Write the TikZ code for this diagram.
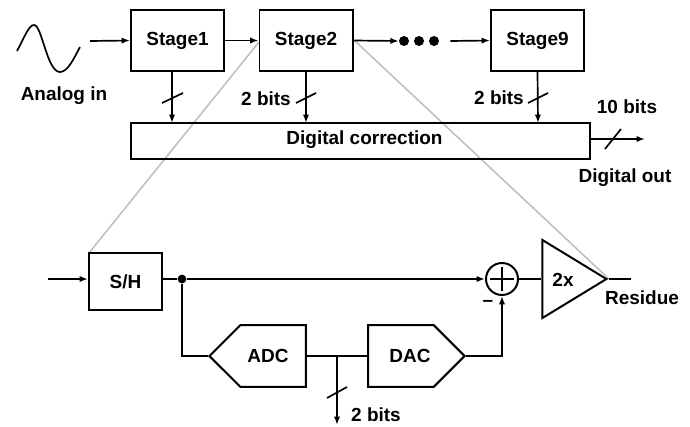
\documentclass[tikz,border=0pt]{standalone}
\usepackage{fontspec}
\setmainfont{Liberation Sans}
\usetikzlibrary{shapes.geometric, shapes.symbols, arrows.meta}
\tikzset{
  wire/.style={line width=1.2pt},
  sig/.style={wire, -{Latex[length=6pt,width=4.5pt]}},
  zoomline/.style={black!25, line width=1.1pt},
  lab/.style={font=\fontsize{13.5}{15}\selectfont\bfseries, inner sep=0pt},
  stagebox/.style={draw, line width=1.4pt, lab, minimum width=2.325cm, minimum height=1.525cm},
  adcbox/.style={draw, line width=1.4pt, lab, shape=signal, signal from=nowhere, signal pointer angle=90, minimum width=2.41cm, minimum height=1.54cm, inner sep=0pt},
}
\begin{document}
\begin{tikzpicture}[x=0.025cm, y=-0.025cm]
\useasboundingbox (0,0) rectangle (690,427);
% zoom lines go under everything
\coordinate (stagetwoin) at (259,42);
\coordinate (stagetwoout) at (355,41);
\draw[zoomline] (stagetwoin) -- (89,253);
\draw[zoomline] (stagetwoout) -- (609,279);

% pipeline
\draw[wire] (17,51) .. controls (25,36) and (29,25) .. (34,25) .. controls (42,25) and (47,72) .. (60,72) .. controls (68,72) and (74,58) .. (80,47);
\node[lab] (analogin) at (64,96) {Analog in};
\coordinate (instart) at (90,41);
\node[stagebox] (stageone) at (177.5,40.5) {Stage1};
\node[stagebox] (stagetwo) at (306,40.5) {Stage2};
\node[stagebox] (stagenine) at (537.5,40.5) {Stage9};
\node[draw, line width=1.4pt, lab, minimum width=11.475cm, minimum height=0.9cm] (correction) at (360.5,141) {};
\node[lab] (correctiontext) at (364.5,140) {Digital correction};
\foreach \x/\name in {404/dotone, 419/dottwo, 434/dotthree}
  \node[circle, fill=black, inner sep=0pt, minimum size=0.25cm] (\name) at (\x,41) {};
\draw[sig] (instart) -- (stageone.west);
\draw[sig] (stageone) -- (stagetwo.west);
\draw[sig] (stagetwo.east) -- (dotone.west);
\draw[sig] (dotthree.east) ++(11,0) coordinate (dotsout) -- (stagenine.west);
\draw[sig] (stageone.south -| 172,0) -- (172,123);
\draw[sig] (stagetwo.south) -- (306,123);
\draw[sig] (stagenine.south) -- (538,123);
\draw[wire] (162,103) -- (183,93);
\draw[wire] (296,103) -- (316,93);
\draw[wire] (528,103) -- (548,93);
\node[lab] (bitstwo) at (266,99) {2 bits};
\node[lab] (bitsnine) at (499,98) {2 bits};
\coordinate (digout) at (645,139);
\draw[sig] (correction.east |- digout) -- (digout);
\draw[wire] (605,149) -- (621,129);
\node[lab] (tenbits) at (627,107) {10 bits};
\node[lab] (digitalout) at (625,178) {Digital out};

% stage detail
\coordinate (stagein) at (48,279);
\node[stagebox, minimum width=1.825cm, minimum height=1.425cm] (sh) at (125.5,281.5) {S/H};
\node[circle, draw, line width=1.4pt, minimum size=0.8cm, inner sep=0pt] (sum) at (502,279) {};
\draw[wire] (490,279) -- (514,279);
\draw[wire] (502,267) -- (502,291);
\node[circle, fill=black, inner sep=0pt, minimum size=0.22cm] (branch) at (182,279) {};
\node[adcbox, signal to=west, anchor=west] (adc) at (208,356) {};
\node[lab] (adctext) at (268,356) {ADC};
\node[adcbox, signal to=east, anchor=east] (dac) at (466,356) {};
\node[lab] (dactext) at (410,356) {DAC};
\node[draw, line width=1.4pt, isosceles triangle, isosceles triangle stretches, shape border rotate=0, minimum width=1.95cm, minimum height=1.6cm, inner sep=0pt, anchor=apex] (amp) at (609,279) {};
\node[lab] (gain) at (563,280) {2x};
\node[lab] (residue) at (642,298) {Residue};
\coordinate (resout) at (631,279);
\draw[sig] (stagein) -- (sh.west |- stagein);
\draw[wire] (sh.east |- branch) -- (branch);
\draw[sig] (branch) -- (sum.west);
\draw[wire] (branch) |- (adc.west);
\draw[wire] (adc.east) -- (dac.west);
\draw[sig] (dac.east) -| (sum.south);
\draw[wire] (sum.east) -- (amp.west |- sum);
\draw[wire] (amp.apex) -- (resout);
\coordinate (adcbits) at (337,356);
\draw[sig] (adcbits) -- (337,425);
\draw[wire] (327,398) -- (347,387);
\node[lab] (bitsadc) at (376,415) {2 bits};
\node[lab] (minus) at (488,303) {--};
\end{tikzpicture}
\end{document}
